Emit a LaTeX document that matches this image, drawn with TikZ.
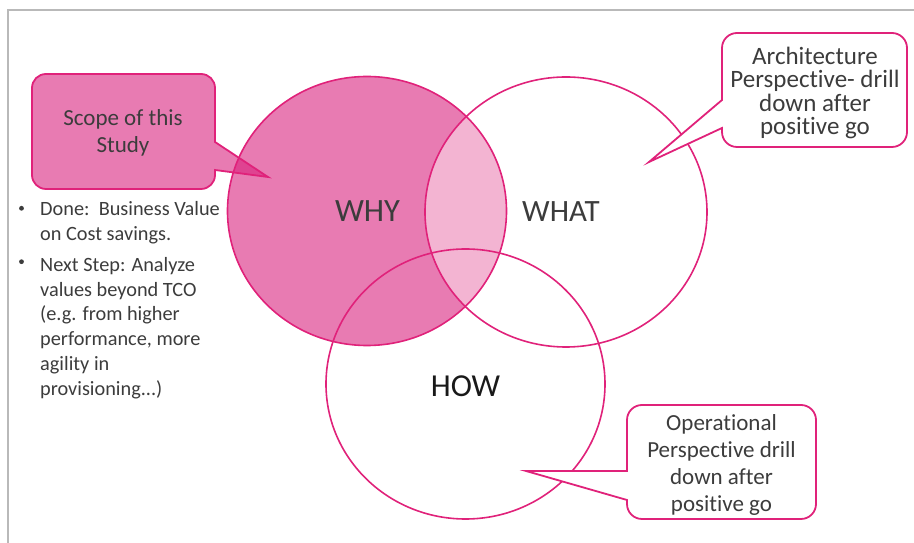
\documentclass[tikz,border=0pt]{standalone}
\usepackage{fontspec}
\setmainfont{Carlito}[Ligatures=NoCommon]
\definecolor{mag}{RGB}{216,27,122}
\definecolor{edge}{RGB}{224,34,122}
\definecolor{lens}{RGB}{243,180,210}
\definecolor{txt}{RGB}{60,60,60}
\definecolor{frame}{RGB}{185,185,185}
\tikzset{
  circ/.style={draw=edge, line width=1.6pt},
  callout/.style={draw=edge, line width=1.8pt},
  calltext/.style={text=txt, align=center, inner sep=0pt, font=\fontsize{23}{27.2}\selectfont},
  bigword/.style={text=txt, inner sep=0pt, font=\fontsize{32.5}{36}\selectfont, anchor=base},
  bullet/.style={text=txt, inner sep=0pt, anchor=base west, font=\fontsize{20.3}{24}\selectfont},
}
\begin{document}
\begin{tikzpicture}[x=1pt,y=1pt]
\useasboundingbox (0,0) rectangle (914,543);
% frame
\draw[frame, line width=2pt] (7.5,0) -- (7.5,533) -- (914,533);
% WHY fill
\fill[mag, fill opacity=0.58] (367,332) ellipse [x radius=139.5, y radius=134.5];
% lens
\begin{scope}
  \clip (367,332) ellipse [x radius=139.5, y radius=134.5];
  \fill[lens] (566,331) ellipse [x radius=141, y radius=135];
\end{scope}
% scope callout
\path[callout, fill=mag, fill opacity=0.58]
  (46,469) -- (201,469) arc[start angle=90, end angle=0, radius=14]
  -- (215,401) -- (268,366) -- (215,373) -- (215,368)
  arc[start angle=0, end angle=-90, radius=14]
  -- (46,354) arc[start angle=-90, end angle=-180, radius=14]
  -- (32,455) arc[start angle=180, end angle=90, radius=14] -- cycle;
% circle outlines
\draw[circ] (367,332) ellipse [x radius=139.5, y radius=134.5];
\draw[circ] (566,331) ellipse [x radius=141, y radius=135];
\draw[circ] (465.5,159) ellipse [x radius=139.5, y radius=135];
% architecture callout
\draw[callout, fill=white]
  (737,510) -- (892,510) arc[start angle=90, end angle=0, radius=15]
  -- (907,411) arc[start angle=0, end angle=-90, radius=15]
  -- (737,396) arc[start angle=-90, end angle=-180, radius=15]
  -- (722,415) -- (649,381) -- (722,443)
  -- (722,495) arc[start angle=180, end angle=90, radius=15] -- cycle;
% operational callout
\draw[callout, fill=white]
  (642,138) -- (801,138) arc[start angle=90, end angle=0, radius=15]
  -- (816,39) arc[start angle=0, end angle=-90, radius=15]
  -- (642,24) arc[start angle=-90, end angle=-180, radius=15]
  -- (627,43) -- (526,72) -- (627,72)
  -- (627,123) arc[start angle=180, end angle=90, radius=15] -- cycle;
% texts
\node[calltext] (scopetxt) at (123,410) {Scope of this\\Study};
\node[calltext, font=\fontsize{25}{23.6}\selectfont] (archtxt) at (815,450) {Architecture\\Perspective- drill\\down after\\positive go};
\node[calltext] (optxt) at (721.5,78) {Operational\\Perspective drill\\down after\\positive go};
\node[bigword] (why) at (367.5,321) {WHY};
\node[bigword, font=\fontsize{31}{36}\selectfont] (what) at (561,321) {WHAT};
\node[bigword, text=black!90, font=\fontsize{32}{36}\selectfont] (how) at (465.5,146) {HOW};
% bullets
\fill[txt] (21.5,334.7) circle[radius=2.4];
\fill[txt] (21.5,281.3) circle[radius=2.4];
\node[bullet] (b1) at (40,327) {Done:\ \ Business Value};
\node[bullet] (b2) at (40,302) {on Cost savings.};
\node[bullet] (b3) at (40,271.3) {Next Step: Analyze};
\node[bullet] (b4) at (40,246.3) {values beyond TCO};
\node[bullet] (b5) at (40,222) {(e.g. from higher};
\node[bullet] (b6) at (40,197.3) {performance, more};
\node[bullet] (b7) at (40,172.3) {agility in};
\node[bullet] (b8) at (40,147.3) {provisioning...)};
\end{tikzpicture}
\end{document}
